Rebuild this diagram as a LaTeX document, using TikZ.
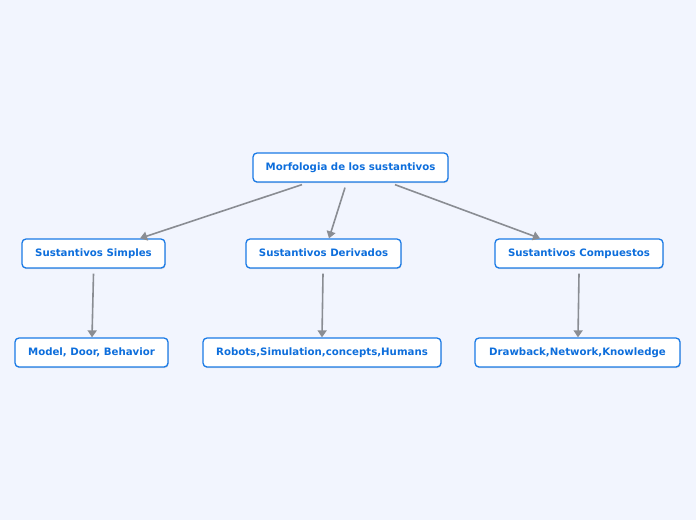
\documentclass[tikz,border=0pt]{standalone}
\usepackage{fontspec}
\setmainfont{DejaVu Sans}
\usetikzlibrary{arrows.meta,shadows}
\definecolor{bgblue}{HTML}{F2F5FE}
\definecolor{boxblue}{HTML}{1A7AE6}
\definecolor{txtblue}{HTML}{0D6EDC}
\definecolor{linkgray}{HTML}{8A8D93}
\tikzset{
  topic/.style={draw=boxblue,line width=1.3pt,fill=white,rounded corners=4pt,
    text=txtblue,font=\fontsize{10.2}{12}\selectfont\bfseries,minimum height=29pt,
    text height=7.5pt,text depth=2pt,
    inner xsep=0pt,drop shadow={shadow xshift=0.6pt,shadow yshift=-1.2pt,opacity=0.25}},
  link/.style={draw=linkgray,line width=1.6pt,-{Triangle[length=7pt,width=9pt]}}
}
\begin{document}
\begin{tikzpicture}[x=1pt,y=-1pt]
\fill[bgblue] (0,0) rectangle (696,520);
\useasboundingbox (0,0) rectangle (696,520);
\node[topic,minimum width=195pt] (root) at (350.5,167.5) {Morfologia de los sustantivos};
\node[topic,minimum width=143pt] (simp) at (93.5,253.5) {Sustantivos Simples};
\node[topic,minimum width=155pt] (deri) at (323.5,253.5) {Sustantivos Derivados};
\node[topic,minimum width=168pt] (comp) at (579,253.5) {Sustantivos Compuestos};
\node[topic,minimum width=153pt] (ejsimp) at (91.5,352.5) {Model, Door, Behavior};
\node[topic,minimum width=238pt] (ejderi) at (322,352.5) {Robots,Simulation,concepts,Humans};
\node[topic,minimum width=205pt] (ejcomp) at (577.5,352.5) {Drawback,Network,Knowledge};
% conectores
\draw[link] ([xshift=-48.5pt,yshift=-2pt]root.south) -- ([xshift=46.5pt]simp.north);
\draw[link] ([xshift=-5.5pt,yshift=-5pt]root.south) -- ([xshift=5.5pt]deri.north);
\draw[link] ([xshift=44.5pt,yshift=-2pt]root.south) -- ([xshift=-39pt]comp.north);
\draw[link] ([yshift=-5pt]simp.south) -- ([xshift=0.5pt]ejsimp.north);
\draw[link] ([yshift=-5pt,xshift=-0.5pt]deri.south) -- (ejderi.north);
\draw[link] ([yshift=-5pt]comp.south) -- ([xshift=0.5pt]ejcomp.north);
\end{tikzpicture}
\end{document}
